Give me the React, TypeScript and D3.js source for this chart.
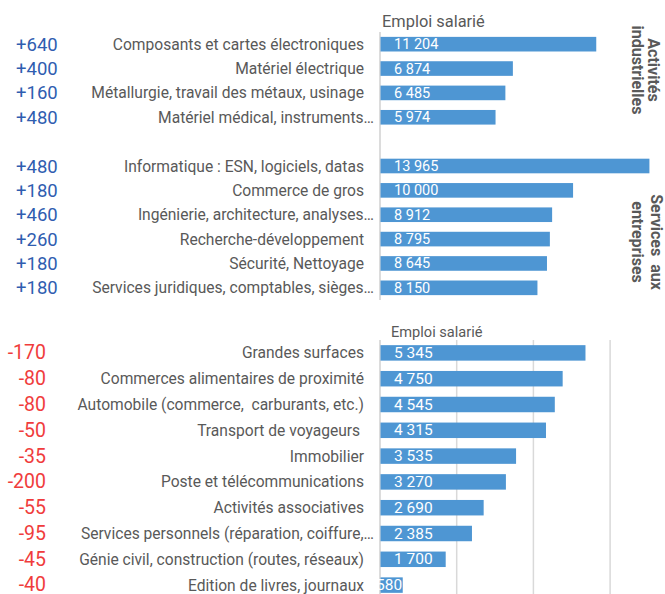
import React from "react";
import * as d3 from "d3";

const industryLabels = [
  "Composants et cartes électroniques",
  "Matériel électrique",
  "Métallurgie, travail des métaux, usinage",
  "Matériel médical, instruments…",
];
const industryValues = [11204, 6874, 6485, 5974];
const industryChanges = ["+640", "+400", "+160", "+480"];

const serviceLabels = [
  "Informatique : ESN, logiciels, datas",
  "Commerce de gros",
  "Ingénierie, architecture, analyses…",
  "Recherche-développement",
  "Sécurité, Nettoyage",
  "Services juridiques, comptables, sièges…",
];
const serviceValues = [13965, 10000, 8912, 8795, 8645, 8150];
const serviceChanges = ["+480", "+180", "+460", "+260", "+180", "+180"];

const declineLabels = [
  "Grandes surfaces",
  "Commerces alimentaires de proximité",
  "Automobile (commerce,  carburants, etc.)",
  "Transport de voyageurs ",
  "Immobilier",
  "Poste et télécommunications",
  "Activités associatives",
  "Services personnels (réparation, coiffure,…",
  "Génie civil, construction (routes, réseaux)",
  "Edition de livres, journaux",
];
const declineValues = [5345, 4750, 4545, 4315, 3535, 3270, 2690, 2385, 1700, 580];
const declineChanges = ["-170", "-80", "-80", "-50", "-35", "-200", "-55", "-95", "-45", "-40"];

const bottomTicks = [2000, 4000, 6000, 8000];

const FONT = "Roboto, 'Noto Sans', sans-serif";
const GREY = "#595959";
const BAR = "#4E96D3";
const BLUE = "#2F5DB0";
const RED = "#F03C3C";

const fmt = (v: number) => {
  const s = String(v);
  return s.replace(/\B(?=(\d{3})+(?!\d))/g, " ");
};

type Row = { key: string; label: string; value: number; change: string };

export default function App() {
  const topRows: (Row | null)[] = [
    ...industryLabels.map((l, i) => ({ key: "i" + i, label: l, value: industryValues[i], change: industryChanges[i] })),
    null,
    ...serviceLabels.map((l, i) => ({ key: "s" + i, label: l, value: serviceValues[i], change: serviceChanges[i] })),
  ];
  const topKeys = topRows.map((r, i) => (r ? r.key : "gap" + i));
  const yTop = d3.scaleBand<string>().domain(topKeys).range([32, 300]).paddingInner(0.4).paddingOuter(0.2);
  const xTop = d3.scaleLinear().domain([0, 14000]).range([380, 649.6]);

  const botRows: Row[] = declineLabels.map((l, i) => ({ key: "d" + i, label: l, value: declineValues[i], change: declineChanges[i] }));
  const yBot = d3.scaleBand<string>().domain(botRows.map((r) => r.key)).range([340, 598]).paddingInner(0.4).paddingOuter(0.2);
  const xBot = d3.scaleLinear().domain([0, 8000]).range([380, 686.8]);

  const catLabel = (r: Row, y: number) => {
    const trunc = r.label.endsWith("…");
    return (
      <text key={"l" + r.key} x={trunc ? 374 : 364} y={y + 5.5} textAnchor="end" fontSize={15.6} fill={GREY} style={{ whiteSpace: "pre" }}>
        {r.label}
      </text>
    );
  };

  const valueLabel = (r: Row, x0: number, x1: number, y: number, size: number) => {
    const tooSmall = x1 - x0 < 40;
    return (
      <text
        key={"v" + r.key}
        x={tooSmall ? x1 : x0 + 14}
        y={y + 5}
        textAnchor={tooSmall ? "end" : "start"}
        fontSize={size}
        fill="#fff"
      >
        {fmt(r.value)}
      </text>
    );
  };

  return (
    <svg width={665} height={594} style={{ position: "absolute", left: 0, top: 0, fontFamily: FONT }}>
      <rect width={665} height={594} fill="#fff" />

      {/* Top chart */}
      <text x={382} y={27} fontSize={16.4} fill={GREY}>Emploi salarié</text>
      <line x1={xTop(0)} x2={xTop(0)} y1={32} y2={300} stroke="#D0D0D0" strokeWidth={1.5} />
      {topRows.map((r) => {
        if (!r) return null;
        const y0 = yTop(r.key)!;
        const bw = yTop.bandwidth();
        const cy = y0 + bw / 2;
        return (
          <g key={r.key}>
            <rect x={xTop(0) + 0.5} y={y0} width={xTop(r.value) - xTop(0)} height={bw} fill={BAR} />
            {valueLabel(r, xTop(0), xTop(r.value), cy, 14.5)}
            {catLabel(r, cy)}
            <text x={16} y={cy + 6.5} fontSize={18.5} fill={BLUE}>{r.change}</text>
          </g>
        );
      })}
      <g fontSize={16} fontWeight="bold" fill={GREY} textAnchor="middle">
        <text transform={`translate(653,70) rotate(90)`} dominantBaseline="central">Activités</text>
        <text transform={`translate(637,70) rotate(90)`} dominantBaseline="central">industrielles</text>
        <text transform={`translate(656,242) rotate(90)`} dominantBaseline="central" style={{ whiteSpace: "pre" }}>Services  aux</text>
        <text transform={`translate(637,242) rotate(90)`} dominantBaseline="central">entreprises</text>
      </g>

      {/* Bottom chart */}
      <text x={391} y={337} fontSize={14.6} fill={GREY}>Emploi salarié</text>
      {bottomTicks.map((t) => (
        <line key={t} x1={xBot(t)} x2={xBot(t)} y1={340} y2={598} stroke="#D9D9D9" strokeWidth={1.5} />
      ))}
      <line x1={xBot(0)} x2={xBot(0)} y1={340} y2={598} stroke="#D0D0D0" strokeWidth={1.5} />
      {botRows.map((r) => {
        const y0 = yBot(r.key)!;
        const bw = yBot.bandwidth();
        const cy = y0 + bw / 2;
        return (
          <g key={r.key}>
            <rect x={xBot(0) + 0.5} y={y0} width={xBot(r.value) - xBot(0)} height={bw} fill={BAR} />
            {valueLabel(r, xBot(0), xBot(r.value), cy, 15.5)}
            {catLabel(r, cy)}
            <text x={46} y={Math.min(cy + 6.5, 591)} textAnchor="end" fontSize={19.5} fill={RED}>{r.change}</text>
          </g>
        );
      })}
    </svg>
  );
}
